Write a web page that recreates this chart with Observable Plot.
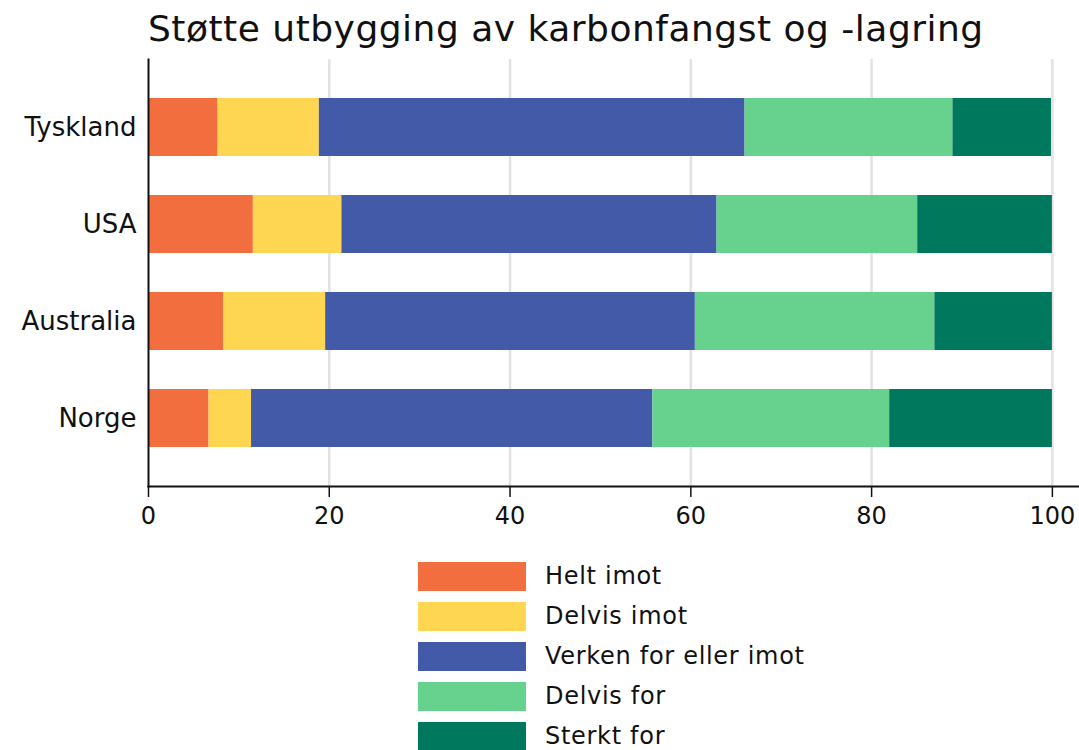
<!DOCTYPE html>
<html>
<head>
<meta charset="utf-8">
<script src="https://cdn.jsdelivr.net/npm/d3@7"></script>
<script src="https://cdn.jsdelivr.net/npm/@observablehq/plot@0.6"></script>
<style>
  html, body { margin: 0; padding: 0; background: #fff; width: 1079px; height: 750px; overflow: hidden; }
  body { font-family: "DejaVu Sans", "Open Sans", sans-serif; color: #111; }
  #title { height: 56px; padding-left: 148px; font-size: 36px; letter-spacing: 0.5px; line-height: 58px; white-space: nowrap; }
  #legend { margin-top: 22px; margin-left: 418px; }
  .row { display: flex; align-items: center; height: 29px; margin-bottom: 11px; }
  .sw { width: 108px; height: 29px; margin-right: 19px; }
  .lab { font-size: 24px; letter-spacing: 0.7px; line-height: 29px; }
</style>
</head>
<body>
<div id="title">Støtte utbygging av karbonfangst og -lagring</div>
<div id="chart"></div>
<div id="legend"></div>
<script>
const countries = ["Tyskland", "USA", "Australia", "Norge"];
const categories = ["Helt imot", "Delvis imot", "Verken for eller imot", "Delvis for", "Sterkt for"];
const colors = ["#F26E3F", "#FFD651", "#435AA8", "#66D28E", "#00785D"];
const heltImot = [7.7, 11.6, 8.3, 6.7];
const delvisImot = [11.2, 9.8, 11.3, 4.7];
const verken = [47.1, 41.5, 40.9, 44.4];
const delvisFor = [23.0, 22.2, 26.5, 26.2];
const sterktFor = [10.9, 14.9, 13.0, 18.0];
const xTicks = [0, 20, 40, 60, 80, 100];

const series = [heltImot, delvisImot, verken, delvisFor, sterktFor];
const data = [];
categories.forEach((cat, i) => {
  countries.forEach((c, j) => data.push({country: c, category: cat, value: series[i][j]}));
});

const chart = Plot.plot({
  width: 1079,
  height: 484,
  marginTop: 3,
  marginBottom: 54,
  marginLeft: 148,
  marginRight: 0,
  style: {fontFamily: "'DejaVu Sans', 'Open Sans', sans-serif", color: "#111", background: "#fff"},
  x: {domain: [0, 103], label: null},
  y: {domain: countries, label: null, padding: 0.4},
  color: {domain: categories, range: colors},
  marks: [
    Plot.gridX(xTicks.filter(d => d > 0), {stroke: "#e2e2e2", strokeWidth: 2.5, strokeOpacity: 1}),
    Plot.barX(data, {x: "value", y: "country", fill: "category", order: categories}),
    Plot.frame({anchor: "bottom", stroke: "#111", strokeWidth: 2}),
    Plot.frame({anchor: "left", stroke: "#111", strokeWidth: 2}),
    Plot.axisX({ticks: xTicks, tickSize: 11, tickPadding: 9, fontSize: 24, tickFormat: d => String(d), stroke: "#111", strokeWidth: 1.5}),
    Plot.axisY({tickSize: 0, tickPadding: 12, fontSize: 26})
  ]
});
document.getElementById("chart").appendChild(chart);

const legend = document.getElementById("legend");
categories.forEach((cat, i) => {
  const row = document.createElement("div");
  row.className = "row";
  const sw = document.createElement("div");
  sw.className = "sw";
  sw.style.background = colors[i];
  const lab = document.createElement("div");
  lab.className = "lab";
  lab.textContent = cat;
  row.appendChild(sw);
  row.appendChild(lab);
  legend.appendChild(row);
});
</script>
</body>
</html>
